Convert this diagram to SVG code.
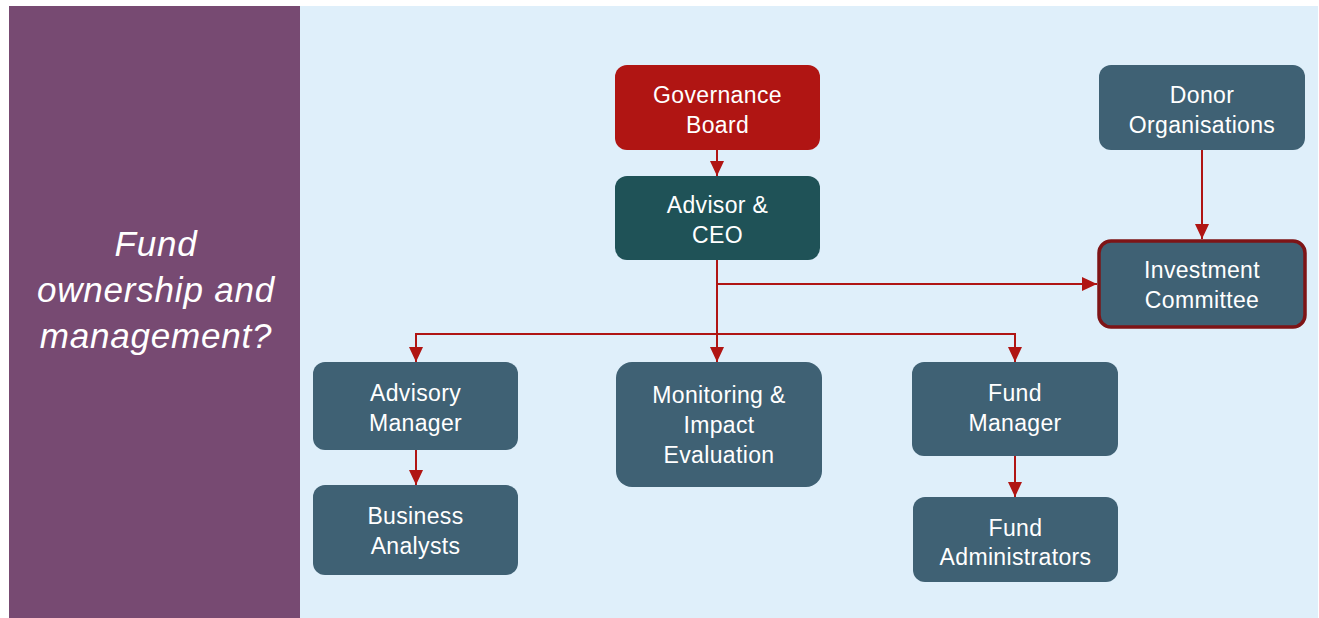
<svg xmlns="http://www.w3.org/2000/svg" width="1319" height="618" viewBox="0 0 1319 618">
  <style>
    .node rect { fill: #3F6174; }
    .node text { font-family: "Liberation Sans", Arial, sans-serif; font-size: 23px; letter-spacing: 0.35px; fill: #FFFFFF; text-anchor: middle; }
    .conn path { fill: none; stroke: #B01513; stroke-width: 2; }
    .side { font-family: "Liberation Sans", Arial, sans-serif; font-size: 35px; font-style: italic; fill: #FFFFFF; text-anchor: middle; letter-spacing: 0.8px; }
  </style>
  <defs>
    <marker id="arr" markerUnits="userSpaceOnUse" markerWidth="16" markerHeight="16" viewBox="0 0 16 16" refX="15" refY="8" orient="auto">
      <path d="M0,1 L15,8 L0,15 Z" fill="#B01513"/>
    </marker>
  </defs>
  <rect x="0" y="0" width="1319" height="618" fill="#FFFFFF"/>
  <rect x="9" y="6" width="291" height="612" fill="#774A72"/>
  <rect x="300" y="6" width="1018" height="612" fill="#DFEFFA"/>
  <g id="side-title">
    <text class="side" x="156" y="256">Fund</text>
    <text class="side" x="156" y="302">ownership and</text>
    <text class="side" x="156" y="348">management?</text>
  </g>
  <g id="connectors" class="conn">
    <path d="M717 150 V176" marker-end="url(#arr)"/>
    <path d="M1202 150 V239" marker-end="url(#arr)"/>
    <path d="M717 260 V362" marker-end="url(#arr)"/>
    <path d="M717 284 H1097" marker-end="url(#arr)"/>
    <path d="M717 334 H416 V362" marker-end="url(#arr)"/>
    <path d="M717 334 H1015 V362" marker-end="url(#arr)"/>
    <path d="M416 450 V485" marker-end="url(#arr)"/>
    <path d="M1015 446 V497" marker-end="url(#arr)"/>
  </g>
  <g id="governance-board" class="node">
    <rect x="615" y="65" width="205" height="85" rx="12" style="fill:#B01513"/>
    <text x="717.5" y="103">Governance</text>
    <text x="717.5" y="133">Board</text>
  </g>
  <g id="advisor-ceo" class="node">
    <rect x="615" y="176" width="205" height="84" rx="12" style="fill:#1F5257"/>
    <text x="717.5" y="213">Advisor &amp;</text>
    <text x="717.5" y="243">CEO</text>
  </g>
  <g id="donor-organisations" class="node">
    <rect x="1099" y="65" width="206" height="85" rx="12"/>
    <text x="1202" y="103">Donor</text>
    <text x="1202" y="133">Organisations</text>
  </g>
  <g id="investment-committee" class="node">
    <rect x="1099" y="241" width="206" height="86" rx="12" style="stroke:#7E1416;stroke-width:3.5"/>
    <text x="1202" y="278">Investment</text>
    <text x="1202" y="308">Committee</text>
  </g>
  <g id="advisory-manager" class="node">
    <rect x="313" y="362" width="205" height="88" rx="12"/>
    <text x="415.5" y="401">Advisory</text>
    <text x="415.5" y="431">Manager</text>
  </g>
  <g id="monitoring-impact-evaluation" class="node">
    <rect x="616" y="362" width="206" height="125" rx="16"/>
    <text x="719" y="403">Monitoring &amp;</text>
    <text x="719" y="433">Impact</text>
    <text x="719" y="463">Evaluation</text>
  </g>
  <g id="fund-manager" class="node">
    <rect x="912" y="362" width="206" height="94" rx="12"/>
    <text x="1015" y="401">Fund</text>
    <text x="1015" y="431">Manager</text>
  </g>
  <g id="business-analysts" class="node">
    <rect x="313" y="485" width="205" height="90" rx="12"/>
    <text x="415.5" y="524">Business</text>
    <text x="415.5" y="554">Analysts</text>
  </g>
  <g id="fund-administrators" class="node">
    <rect x="913" y="497" width="205" height="85" rx="12"/>
    <text x="1015.5" y="536">Fund</text>
    <text x="1015.5" y="565">Administrators</text>
  </g>
</svg>
